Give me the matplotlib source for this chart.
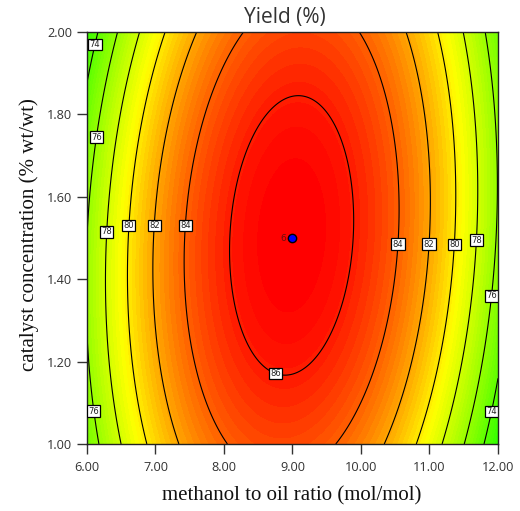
import numpy as np
import matplotlib
matplotlib.use("Agg")
import matplotlib.pyplot as plt
from matplotlib.colors import LinearSegmentedColormap, Normalize

# Fitted quadratic response-surface model for yield, in coded factors
# A = (ratio - 9) / 3, B = (catalyst - 1.5) / 0.5
coef_names = ["b0", "A", "B", "AB", "A2", "B2"]
coef_values = [87.0, -0.11, 0.06, 1.07, -11.1, -2.2]

ratio_range = [6.0, 12.0]
catalyst_range = [1.0, 2.0]
contour_levels = [74, 76, 78, 80, 82, 84, 86]

x_ticks = [6.0, 7.0, 8.0, 9.0, 10.0, 11.0, 12.0]
y_ticks = [1.0, 1.2, 1.4, 1.6, 1.8, 2.0]

# design point (centre point, 6 replicates)
design_x = [9.0]
design_y = [1.5]
design_n = ["6"]

# where each contour label sits (ratio, catalyst)
label_spots = [
    (6.10, 1.97), (6.13, 1.745), (6.29, 1.515), (6.61, 1.53), (6.98, 1.53),
    (7.45, 1.53), (8.77, 1.18), (10.53, 1.485), (10.98, 1.485), (11.34, 1.485),
    (11.68, 1.495), (11.88, 1.36), (6.10, 1.08), (11.88, 1.08),
]

c = dict(zip(coef_names, coef_values))


def yield_model(x, y):
    a = (x - 9.0) / 3.0
    b = (y - 1.5) / 0.5
    return (c["b0"] + c["A"] * a + c["B"] * b + c["AB"] * a * b
            + c["A2"] * a * a + c["B2"] * b * b)


xs = np.linspace(*ratio_range, 400)
ys = np.linspace(*catalyst_range, 400)
X, Y = np.meshgrid(xs, ys)
Z = yield_model(X, Y)

# green -> yellow -> red colour ramp over the response
vmin, vmax = 71.0, 86.8
cmap = LinearSegmentedColormap.from_list(
    "de", [(0.0, "#00ff00"), ((79.5 - vmin) / (vmax - vmin), "#ffff00"), (1.0, "#ff0000")])

fig = plt.figure(figsize=(5.2, 5.11), dpi=100)
ax = fig.add_axes([87 / 520, 1 - 444 / 511, (498 - 87) / 520, (444 - 32) / 511])

ax.contourf(X, Y, Z, levels=np.arange(60, 90, 0.3), cmap=cmap,
            norm=Normalize(vmin, vmax))
cs = ax.contour(X, Y, Z, levels=contour_levels, colors="black", linewidths=0.8)
ax.clabel(cs, manual=label_spots, inline=False, fmt="%d",
          fontsize=6, colors="#222222")
for t in cs.labelTexts:
    t.set_rotation(0)
    t.set_family("DejaVu Sans")
    t.set_bbox(dict(boxstyle="square,pad=0.15", facecolor="white",
                    edgecolor="black", linewidth=0.9))

ax.scatter(design_x, design_y, s=36, color="#0000ff", edgecolor="black",
           linewidth=1.0, zorder=5)
for x, y, n in zip(design_x, design_y, design_n):
    ax.annotate(n, (x, y), xytext=(-6.5, 0), textcoords="offset points",
                ha="center", va="center", fontsize=6.5, color="#661010",
                family="DejaVu Sans")

ax.set_xlim(*ratio_range)
ax.set_ylim(*catalyst_range)
ax.set_xticks(x_ticks)
ax.set_yticks(y_ticks)
ax.set_xticklabels([f"{v:.2f}" for v in x_ticks])
ax.set_yticklabels([f"{v:.2f}" for v in y_ticks])
ax.tick_params(axis="both", direction="out", length=7.5, width=1.0,
               color="#333333", labelsize=9.2, labelcolor="#333333")
ax.tick_params(axis="x", pad=5)
ax.tick_params(axis="y", pad=3)
for lab in ax.get_xticklabels() + ax.get_yticklabels():
    lab.set_family("Open Sans")
for side in ax.spines.values():
    side.set_color("#222222")
    side.set_linewidth(1.0)

fig.text(285 / 520, 1 - 18 / 511, "Yield (%)", ha="center", va="center",
         fontsize=15, color="#333333", family="Open Sans")
fig.text(292 / 520, 1 - 496 / 511, "methanol to oil ratio (mol/mol)",
         ha="center", va="center", fontsize=15, color="#111111",
         family="Liberation Serif")
fig.text(29 / 520, 1 - 235 / 511, "catalyst concentration (% wt/wt)",
         ha="center", va="center", rotation=90, fontsize=15,
         color="#111111", family="Liberation Serif")

fig.savefig("out.png", dpi=100)
